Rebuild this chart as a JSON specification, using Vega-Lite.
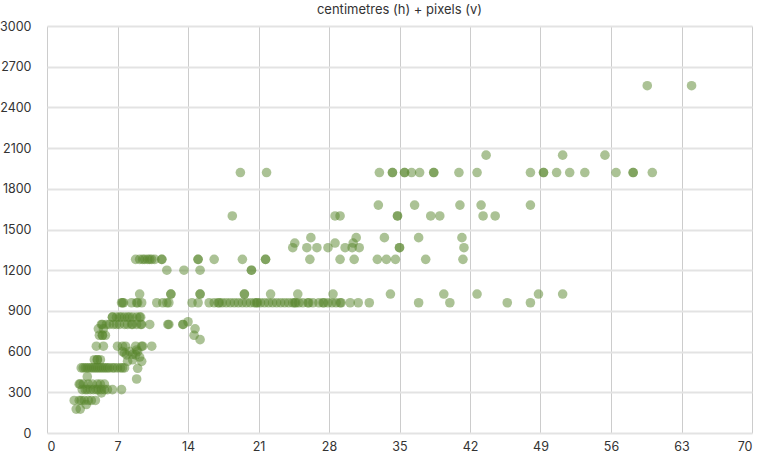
{
  "$schema": "https://vega.github.io/schema/vega-lite/v6.json",
  "width": 705,
  "height": 407,
  "autosize": {"type": "none"},
  "padding": {"left": 47, "top": 26, "right": 8, "bottom": 19},
  "background": "white",
  "title": {
    "text": "centimetres (h) + pixels (v)",
    "anchor": "middle",
    "fontSize": 13,
    "fontWeight": "normal",
    "font": "Inter",
    "color": "#333333",
    "offset": 3
  },
  "config": {
    "view": {"stroke": null},
    "axis": {"labelFont": "Inter", "labelFontSize": 12.5, "labelColor": "#333333", "domain": false, "ticks": false, "title": null}
  },
  "data": {
    "values": [
      {"cm": 59.6, "px": 2560}, {"cm": 64.0, "px": 2560},
      {"cm": 43.6, "px": 2048}, {"cm": 51.2, "px": 2048}, {"cm": 55.4, "px": 2048},
      {"cm": 19.2, "px": 1920}, {"cm": 21.8, "px": 1920}, {"cm": 33.0, "px": 1920}, {"cm": 34.3, "px": 1920}, {"cm": 34.3, "px": 1920}, {"cm": 35.5, "px": 1920}, {"cm": 35.5, "px": 1920}, {"cm": 36.2, "px": 1920}, {"cm": 37.0, "px": 1920}, {"cm": 38.4, "px": 1920}, {"cm": 38.4, "px": 1920}, {"cm": 40.9, "px": 1920}, {"cm": 42.7, "px": 1920}, {"cm": 48.0, "px": 1920}, {"cm": 49.3, "px": 1920}, {"cm": 49.3, "px": 1920}, {"cm": 50.6, "px": 1920}, {"cm": 51.9, "px": 1920}, {"cm": 53.4, "px": 1920}, {"cm": 56.5, "px": 1920}, {"cm": 58.2, "px": 1920}, {"cm": 58.2, "px": 1920}, {"cm": 60.1, "px": 1920},
      {"cm": 32.9, "px": 1680}, {"cm": 36.5, "px": 1680}, {"cm": 41.0, "px": 1680}, {"cm": 43.1, "px": 1680}, {"cm": 48.0, "px": 1680},
      {"cm": 18.4, "px": 1600}, {"cm": 28.6, "px": 1600}, {"cm": 29.1, "px": 1600}, {"cm": 34.8, "px": 1600}, {"cm": 34.8, "px": 1600}, {"cm": 38.1, "px": 1600}, {"cm": 39.0, "px": 1600}, {"cm": 43.3, "px": 1600}, {"cm": 44.5, "px": 1600},
      {"cm": 26.2, "px": 1440}, {"cm": 30.7, "px": 1440}, {"cm": 33.5, "px": 1440}, {"cm": 36.9, "px": 1440}, {"cm": 41.2, "px": 1440},
      {"cm": 24.6, "px": 1400}, {"cm": 28.6, "px": 1400}, {"cm": 30.4, "px": 1400},
      {"cm": 24.4, "px": 1366}, {"cm": 25.8, "px": 1366}, {"cm": 26.8, "px": 1366}, {"cm": 27.9, "px": 1366}, {"cm": 29.6, "px": 1366}, {"cm": 30.3, "px": 1366}, {"cm": 31.0, "px": 1366}, {"cm": 35.0, "px": 1366}, {"cm": 35.0, "px": 1366}, {"cm": 41.4, "px": 1366},
      {"cm": 8.8, "px": 1280}, {"cm": 9.2, "px": 1280}, {"cm": 9.5, "px": 1280}, {"cm": 9.7, "px": 1280}, {"cm": 10.0, "px": 1280}, {"cm": 10.2, "px": 1280}, {"cm": 10.4, "px": 1280}, {"cm": 10.7, "px": 1280}, {"cm": 11.4, "px": 1280}, {"cm": 11.4, "px": 1280}, {"cm": 15.0, "px": 1280}, {"cm": 15.0, "px": 1280}, {"cm": 16.6, "px": 1280}, {"cm": 19.4, "px": 1280}, {"cm": 21.7, "px": 1280}, {"cm": 21.7, "px": 1280}, {"cm": 26.1, "px": 1280}, {"cm": 29.1, "px": 1280}, {"cm": 30.5, "px": 1280}, {"cm": 32.8, "px": 1280}, {"cm": 33.7, "px": 1280}, {"cm": 34.6, "px": 1280}, {"cm": 37.6, "px": 1280}, {"cm": 41.3, "px": 1280},
      {"cm": 11.9, "px": 1200}, {"cm": 13.6, "px": 1200}, {"cm": 15.2, "px": 1200}, {"cm": 20.3, "px": 1200}, {"cm": 20.3, "px": 1200},
      {"cm": 9.2, "px": 1024}, {"cm": 12.3, "px": 1024}, {"cm": 12.3, "px": 1024}, {"cm": 15.2, "px": 1024}, {"cm": 15.2, "px": 1024}, {"cm": 19.6, "px": 1024}, {"cm": 19.6, "px": 1024}, {"cm": 22.2, "px": 1024}, {"cm": 24.9, "px": 1024}, {"cm": 28.4, "px": 1024}, {"cm": 34.1, "px": 1024}, {"cm": 39.4, "px": 1024}, {"cm": 42.7, "px": 1024}, {"cm": 48.8, "px": 1024}, {"cm": 51.2, "px": 1024},
      {"cm": 7.4, "px": 960}, {"cm": 7.5, "px": 960}, {"cm": 7.6, "px": 960}, {"cm": 8.4, "px": 960}, {"cm": 8.9, "px": 960}, {"cm": 9.0, "px": 960}, {"cm": 9.4, "px": 960}, {"cm": 10.9, "px": 960}, {"cm": 11.5, "px": 960}, {"cm": 11.9, "px": 960}, {"cm": 12.1, "px": 960}, {"cm": 14.4, "px": 960}, {"cm": 15.0, "px": 960},
      {"cm": 16.1, "px": 960}, {"cm": 16.6, "px": 960}, {"cm": 17.0, "px": 960}, {"cm": 17.1, "px": 960}, {"cm": 17.4, "px": 960}, {"cm": 17.8, "px": 960}, {"cm": 18.2, "px": 960}, {"cm": 18.6, "px": 960}, {"cm": 19.0, "px": 960}, {"cm": 19.4, "px": 960}, {"cm": 19.8, "px": 960}, {"cm": 20.2, "px": 960}, {"cm": 20.6, "px": 960}, {"cm": 20.8, "px": 960}, {"cm": 20.9, "px": 960}, {"cm": 21.2, "px": 960}, {"cm": 21.6, "px": 960}, {"cm": 22.0, "px": 960}, {"cm": 22.4, "px": 960}, {"cm": 22.8, "px": 960}, {"cm": 23.2, "px": 960}, {"cm": 23.6, "px": 960}, {"cm": 24.0, "px": 960}, {"cm": 24.4, "px": 960}, {"cm": 24.6, "px": 960}, {"cm": 24.7, "px": 960}, {"cm": 25.0, "px": 960}, {"cm": 25.4, "px": 960}, {"cm": 25.9, "px": 960}, {"cm": 26.0, "px": 960}, {"cm": 26.4, "px": 960}, {"cm": 27.0, "px": 960}, {"cm": 27.4, "px": 960}, {"cm": 27.5, "px": 960}, {"cm": 27.9, "px": 960}, {"cm": 28.3, "px": 960}, {"cm": 28.7, "px": 960}, {"cm": 29.1, "px": 960}, {"cm": 29.2, "px": 960}, {"cm": 30.1, "px": 960}, {"cm": 30.9, "px": 960}, {"cm": 32.0, "px": 960}, {"cm": 36.9, "px": 960}, {"cm": 40.0, "px": 960}, {"cm": 45.7, "px": 960}, {"cm": 48.0, "px": 960},
      {"cm": 6.5, "px": 854}, {"cm": 6.5, "px": 854}, {"cm": 6.9, "px": 854}, {"cm": 7.2, "px": 854}, {"cm": 7.4, "px": 854}, {"cm": 7.7, "px": 854}, {"cm": 8.0, "px": 854}, {"cm": 8.2, "px": 854}, {"cm": 8.5, "px": 854}, {"cm": 8.9, "px": 854}, {"cm": 9.2, "px": 854}, {"cm": 9.3, "px": 854},
      {"cm": 5.4, "px": 800}, {"cm": 5.5, "px": 800}, {"cm": 5.9, "px": 800}, {"cm": 6.2, "px": 800}, {"cm": 6.6, "px": 800}, {"cm": 6.9, "px": 800}, {"cm": 7.2, "px": 800}, {"cm": 7.7, "px": 800}, {"cm": 8.0, "px": 800}, {"cm": 8.4, "px": 800}, {"cm": 8.5, "px": 800}, {"cm": 8.9, "px": 800}, {"cm": 9.3, "px": 800}, {"cm": 9.4, "px": 800}, {"cm": 10.2, "px": 800}, {"cm": 12.0, "px": 800}, {"cm": 12.1, "px": 800}, {"cm": 13.5, "px": 800}, {"cm": 13.5, "px": 800}, {"cm": 14.0, "px": 820},
      {"cm": 5.1, "px": 768}, {"cm": 5.6, "px": 768}, {"cm": 14.7, "px": 768},
      {"cm": 5.2, "px": 720}, {"cm": 5.5, "px": 720}, {"cm": 5.5, "px": 720}, {"cm": 5.8, "px": 720}, {"cm": 14.6, "px": 720}, {"cm": 15.2, "px": 688},
      {"cm": 4.9, "px": 640}, {"cm": 5.6, "px": 640}, {"cm": 7.0, "px": 640}, {"cm": 7.5, "px": 640}, {"cm": 7.8, "px": 640}, {"cm": 8.8, "px": 640}, {"cm": 9.4, "px": 640}, {"cm": 9.5, "px": 640}, {"cm": 10.4, "px": 640},
      {"cm": 7.5, "px": 600}, {"cm": 7.7, "px": 590}, {"cm": 8.2, "px": 600}, {"cm": 8.9, "px": 612}, {"cm": 9.0, "px": 600},
      {"cm": 7.9, "px": 576}, {"cm": 8.5, "px": 580}, {"cm": 8.8, "px": 576}, {"cm": 9.2, "px": 560},
      {"cm": 4.7, "px": 540}, {"cm": 5.0, "px": 540}, {"cm": 5.0, "px": 540}, {"cm": 5.3, "px": 540}, {"cm": 8.5, "px": 540}, {"cm": 9.4, "px": 528}, {"cm": 8.0, "px": 528},
      {"cm": 3.4, "px": 480}, {"cm": 3.6, "px": 480}, {"cm": 3.8, "px": 480}, {"cm": 4.0, "px": 480}, {"cm": 4.2, "px": 480}, {"cm": 4.4, "px": 480}, {"cm": 4.6, "px": 480}, {"cm": 4.8, "px": 480}, {"cm": 5.0, "px": 480}, {"cm": 5.2, "px": 480}, {"cm": 5.4, "px": 480}, {"cm": 5.6, "px": 480}, {"cm": 5.8, "px": 480}, {"cm": 6.0, "px": 480}, {"cm": 6.2, "px": 480}, {"cm": 6.5, "px": 480}, {"cm": 6.7, "px": 480}, {"cm": 7.0, "px": 480}, {"cm": 7.3, "px": 480}, {"cm": 7.5, "px": 480}, {"cm": 7.7, "px": 480}, {"cm": 9.0, "px": 477},
      {"cm": 4.0, "px": 415}, {"cm": 8.9, "px": 398},
      {"cm": 3.2, "px": 360}, {"cm": 3.3, "px": 360}, {"cm": 3.6, "px": 360}, {"cm": 4.1, "px": 360}, {"cm": 4.5, "px": 360}, {"cm": 5.0, "px": 360}, {"cm": 5.3, "px": 360}, {"cm": 5.7, "px": 360},
      {"cm": 3.5, "px": 320}, {"cm": 3.8, "px": 320}, {"cm": 4.0, "px": 320}, {"cm": 4.3, "px": 320}, {"cm": 4.6, "px": 320}, {"cm": 4.9, "px": 320}, {"cm": 5.1, "px": 320}, {"cm": 5.4, "px": 320}, {"cm": 5.7, "px": 320}, {"cm": 6.0, "px": 320}, {"cm": 6.5, "px": 320}, {"cm": 7.4, "px": 320},
      {"cm": 5.4, "px": 295},
      {"cm": 2.7, "px": 240}, {"cm": 3.2, "px": 240}, {"cm": 3.4, "px": 240}, {"cm": 3.7, "px": 240}, {"cm": 4.1, "px": 240}, {"cm": 4.4, "px": 240}, {"cm": 4.8, "px": 240},
      {"cm": 3.9, "px": 210},
      {"cm": 2.9, "px": 176}, {"cm": 3.3, "px": 176}
    ]
  },
  "mark": {"type": "circle", "size": 92, "color": "#58862c", "opacity": 0.5},
  "encoding": {
    "x": {
      "field": "cm", "type": "quantitative",
      "scale": {"domain": [0, 70], "nice": false, "zero": false},
      "axis": {"values": [0, 7, 14, 21, 28, 35, 42, 49, 56, 63, 70], "format": "d", "gridColor": "#cccccc", "gridWidth": 1, "labelPadding": 7}
    },
    "y": {
      "field": "px", "type": "quantitative",
      "scale": {"domain": [0, 3000], "nice": false},
      "axis": {"values": [0, 300, 600, 900, 1200, 1500, 1800, 2100, 2400, 2700, 3000], "format": "d", "gridColor": "#e3e3e3", "gridWidth": 2, "labelPadding": 16}
    }
  }
}
